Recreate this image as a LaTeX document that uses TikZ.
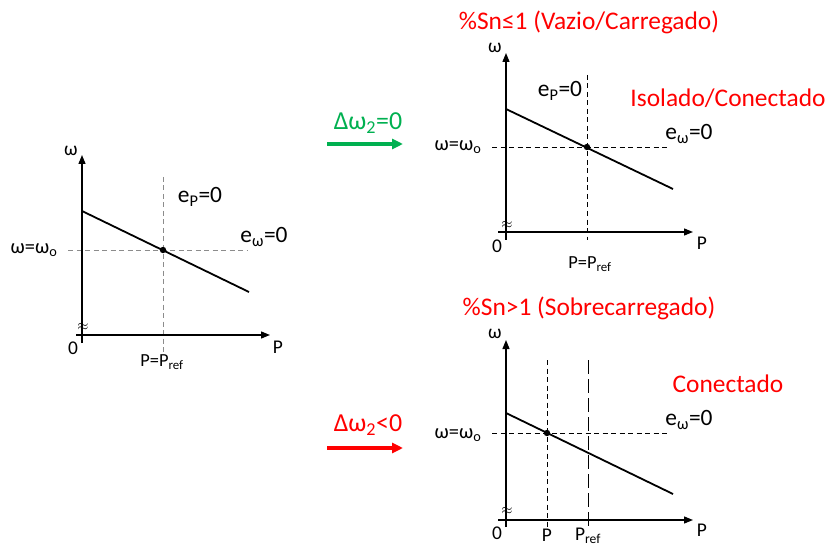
\documentclass[tikz,border=0pt]{standalone}
\usepackage{fontspec}
\setmainfont{Carlito}
\usetikzlibrary{arrows.meta}
\definecolor{offgreen}{RGB}{0,176,80}
\definecolor{offred}{RGB}{255,0,0}
\tikzset{
  axis/.style={line width=1.3bp,-{Triangle[length=9bp,width=7bp]}},
  droop/.style={line width=1.8bp},
  guide/.style={line width=0.9bp,dash pattern=on 5bp off 3.5bp},
  greyguide/.style={guide,draw=black!45},
  longguide/.style={line width=0.9bp,dash pattern=on 14bp off 5bp},
  moveto/.style={line width=3.5bp,-{Triangle[length=11bp,width=10bp]}},
  lbl/.style={inner sep=0pt,font=\fontsize{23.5}{27}\selectfont},
  small/.style={inner sep=0pt,font=\fontsize{19.5}{22}\selectfont},
  tiny/.style={inner sep=0pt,font=\fontsize{18.5}{21}\selectfont},
  ref/.style={inner sep=0pt,font=\fontsize{20.5}{23}\selectfont},
  shiftlbl/.style={inner sep=0pt,font=\fontsize{26}{30}\selectfont},
  title/.style={inner sep=0pt,text=offred,font=\fontsize{25.5}{30}\selectfont},
  brk/.style={inner sep=0pt,font=\fontsize{14}{15}\selectfont}
}
\begin{document}
\begin{tikzpicture}[x=1bp,y=-1bp]
\useasboundingbox (0,0) rectangle (829,545);
% left
\draw[greyguide] (163,177)--(163,353) (68,250)--(247,250);
\draw[axis] (82,343)--(82,155);
\draw[axis] (76,335)--(270,335);
\draw[droop] (82,211)--(249,292);
\fill (163,250) circle (3.2);
\node[brk] (L-brk) at (83,327) {$\approx$};
\node[small] (L-omega) at (71,151) {ω};
\node[small] (L-zero) at (73,348) {0};
\node[small] (L-P) at (278,347) {P};
\node[tiny] (L-Pref) at (162,362) {P=P\textsubscript{ref}};
\node[lbl] (L-eP) at (200,197) {e\textsubscript{P}=0};
\node[lbl] (L-ew) at (264,237) {e\textsubscript{ω}=0};
\node[ref] (L-w0) at (34,250) {ω=ω\textsubscript{o}};
% arrows
\coordinate (g-start) at (327,144); \coordinate (g-end) at (403,144);
\coordinate (r-start) at (327,448); \coordinate (r-end) at (403,448);
\draw[moveto,offgreen] (g-start)--(g-end);
\draw[moveto,offred] (r-start)--(r-end);
\node[shiftlbl,text=offgreen] (g-lbl) at (368,123) {Δω\textsubscript{2}=0};
\node[shiftlbl,text=offred] (r-lbl) at (368,425) {Δω\textsubscript{2}<0};
% top right
\draw[guide] (587,75)--(587,240) (492,147)--(670,147);
\draw[axis] (506,240)--(506,53);
\draw[axis] (498,232)--(693,232);
\draw[droop] (506,109)--(673,189);
\fill (587,147) circle (3.2);
\node[brk] (T-brk) at (507,225) {$\approx$};
\node[small] (T-omega) at (495,48) {ω};
\node[small] (T-zero) at (497,246) {0};
\node[small] (T-P) at (702,243) {P};
\node[tiny] (T-Pref) at (590,264) {P=P\textsubscript{ref}};
\node[lbl] (T-eP) at (560,91) {e\textsubscript{P}=0};
\node[lbl] (T-ew) at (689,134) {e\textsubscript{ω}=0};
\node[ref] (T-w0) at (458,147) {ω=ω\textsubscript{o}};
\node[title] (T-title) at (589,22) {\%Sn≤1 (Vazio/Carregado)};
\node[title] (T-mode) at (728,98) {Isolado/Conectado};
% bottom right
\draw[guide] (547,360)--(547,528) (492,433)--(670,433);
\draw[longguide] (588,360)--(588,528);
\draw[axis] (506,527)--(506,340);
\draw[axis] (498,520)--(693,520);
\draw[droop] (506,413)--(673,494);
\fill (547,433) circle (3.2);
\node[brk] (B-brk) at (507,511) {$\approx$};
\node[small] (B-omega) at (495,334) {ω};
\node[small] (B-zero) at (497,533) {0};
\node[small] (B-P) at (702,530) {P};
\node[small,anchor=base] (B-Pd) at (547,541) {P};
\node[small,anchor=base] (B-Pref) at (588,540) {P\textsubscript{ref}};
\node[lbl] (B-ew) at (689,420) {e\textsubscript{ω}=0};
\node[ref] (B-w0) at (458,435) {ω=ω\textsubscript{o}};
\node[title] (B-title) at (589,308) {\%Sn>1 (Sobrecarregado)};
\node[title] (B-mode) at (728,384) {Conectado};
\end{tikzpicture}
\end{document}
